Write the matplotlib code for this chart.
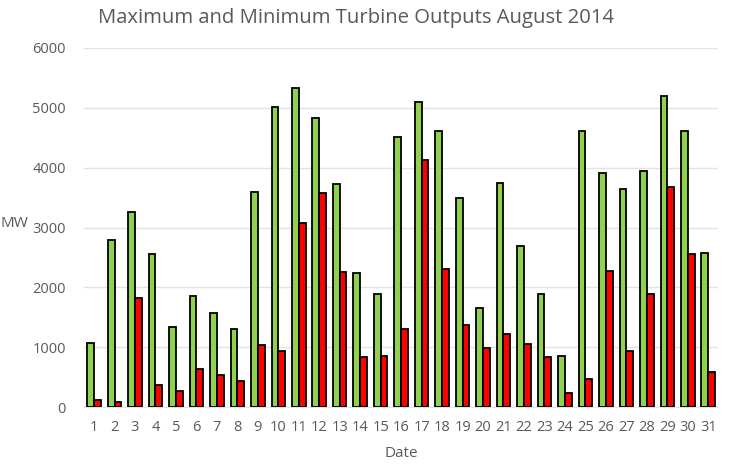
import matplotlib.pyplot as plt
import numpy as np

plt.rcParams['font.family'] = ['Open Sans', 'DejaVu Sans']

days = list(range(1, 32))
max_output = [1070, 2790, 3260, 2560, 1340, 1860, 1570, 1310, 3600, 5010,
              5330, 4830, 3720, 2240, 1890, 4520, 5090, 4620, 3500, 1650,
              3750, 2690, 1890, 860, 4620, 3910, 3640, 3940, 5190, 4620, 2580]
min_output = [120, 90, 1820, 370, 270, 630, 530, 440, 1040, 930,
              3080, 3580, 2250, 840, 850, 1310, 4130, 2300, 1370, 980,
              1220, 1060, 830, 240, 470, 2280, 940, 1890, 3680, 2560, 580]

grey = '#595959'
x = np.array(days)
w = 0.33

fig = plt.figure(figsize=(7.32, 4.66), dpi=100)
ax = fig.add_axes([0.1145, 0.1266, 0.867, 0.7704])

ax.bar(x - w / 2, max_output, width=w, color='#92D050', edgecolor='black',
       linewidth=1.3, zorder=3)
ax.bar(x + w / 2, min_output, width=w, color='#FF0000', edgecolor='black',
       linewidth=1.3, zorder=3)

ax.set_xlim(0.5, 31.5)
ax.set_ylim(0, 6000)
ax.set_yticks(np.arange(0, 6001, 1000))
ax.set_xticks(x)
ax.set_xticklabels([str(d) for d in days])
ax.grid(axis='y', color='#E3E3E3', linewidth=1, zorder=0)
for s in ['top', 'right', 'left']:
    ax.spines[s].set_visible(False)
ax.spines['bottom'].set_color('#E3E3E3')
ax.tick_params(axis='both', length=0, labelsize=10.5, colors=grey)
ax.tick_params(axis='x', pad=9)
ax.tick_params(axis='y', pad=13)

ax.set_xlabel('Date', fontsize=11, color=grey, labelpad=8)
ax.set_ylabel('MW', fontsize=11, color=grey, rotation=0, labelpad=0)
ax.yaxis.set_label_coords(-0.11, 0.49)
fig.text(0.487, 0.962, 'Maximum and Minimum Turbine Outputs August 2014',
         ha='center', va='center', fontsize=14.6, color=grey)

fig.savefig('out.png', dpi=100)
